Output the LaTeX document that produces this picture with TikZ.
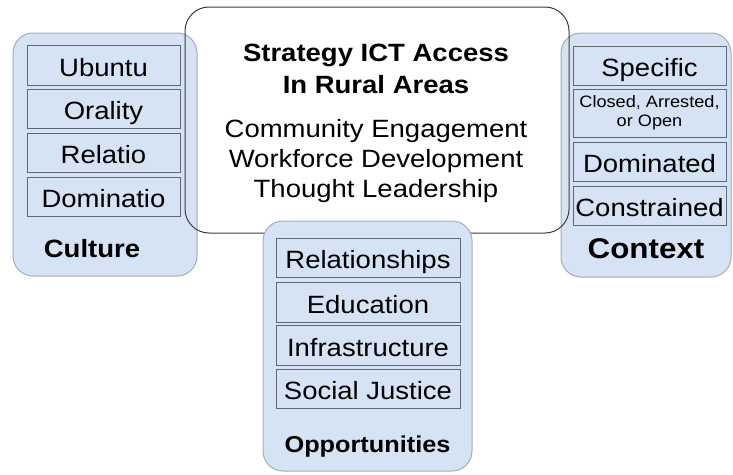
\documentclass[tikz,border=0pt]{standalone}
\usepackage{fontspec}
\setmainfont{Liberation Sans}[FakeStretch=1.1]
\begin{document}
\definecolor{panelfill}{HTML}{D5E3F4}
\definecolor{paneledge}{HTML}{A3ADBA}
\definecolor{itemedge}{HTML}{5E6874}
\definecolor{hubedge}{HTML}{3C3C3C}
\begin{tikzpicture}[x=1pt,y=-1pt,
  panel/.style={draw=paneledge, fill=panelfill, line width=1pt, rounded corners=20pt, inner sep=0pt},
  hub/.style={draw=hubedge, line width=1pt, rounded corners=24pt, inner sep=0pt,
    minimum width=384pt, minimum height=226pt},
  itembox/.style={draw=itemedge, line width=1pt, inner sep=0pt, align=center},
  word/.style={itembox, font=\fontsize{25}{30}\selectfont, text height=25pt, text depth=3.5pt},
  cul/.style={word, minimum width=153pt, minimum height=39.5pt},
  ctx/.style={word, minimum width=153pt, minimum height=39pt},
  opp/.style={word, minimum width=184pt, minimum height=39.5pt},
  heading/.style={anchor=base, inner sep=0pt, font=\bfseries\fontsize{25}{30}\selectfont},
  bodyline/.style={anchor=base, inner sep=0pt, font=\fontsize{25}{30}\selectfont}]
\useasboundingbox (0,0) rectangle (733,474);

% side panels sit beneath the hub outline
\node[panel, minimum width=184pt, minimum height=243pt] (culture) at (105,154.5) {};
\node[panel, minimum width=170pt, minimum height=244pt] (context) at (646,155) {};

% central strategy box (outline only)
\node[hub] (hub) at (377,120) {};
\node[heading] (title1) at (376,61.5) {Strategy ICT Access};
\node[heading] (title2) at (376,93) {In Rural Areas};
\node[bodyline] (line1) at (376,137) {Community Engagement};
\node[bodyline] (line2) at (376,167) {Workforce Development};
\node[bodyline] (line3) at (376,197) {Thought Leadership};

% the opportunities panel covers the hub outline
\node[panel, minimum width=209pt, minimum height=250pt] (opportunities) at (367.5,346) {};

% Culture
\node[cul] (ubuntu) at (103.5,65.5) {Ubuntu};
\node[cul] (orality) at (103.5,109) {Orality};
\node[cul] (relatio) at (103.5,153) {Relatio};
\node[cul] (dominatio) at (103.5,197) {Dominatio};
\node[anchor=base, inner sep=0pt, font=\bfseries\fontsize{25}{30}\selectfont] (culturelabel) at (92,257) {Culture};

% Context
\node[ctx] (specific) at (649.5,65.5) {Specific};
\node[itembox, minimum width=153pt, minimum height=48pt,
      font=\fontsize{16.5}{19}\selectfont] (closed) at (649.5,113) {Closed, Arrested,\\or Open};
\node[ctx] (dominated) at (649.5,161.5) {Dominated};
\node[ctx] (constrained) at (649.5,205.5) {Constrained};
\node[anchor=base, inner sep=0pt, font=\bfseries\fontsize{28.5}{32}\selectfont] (contextlabel) at (646,258) {Context};

% Opportunities
\node[opp] (relationships) at (368,258) {Relationships};
\node[opp] (education) at (368,302.5) {Education};
\node[opp] (infrastructure) at (368,345.5) {Infrastructure};
\node[opp] (justice) at (368,389) {Social Justice};
\node[anchor=base, inner sep=0pt, font=\bfseries\fontsize{23}{28}\selectfont] (opplabel) at (367.5,452) {Opportunities};
\end{tikzpicture}
\end{document}
